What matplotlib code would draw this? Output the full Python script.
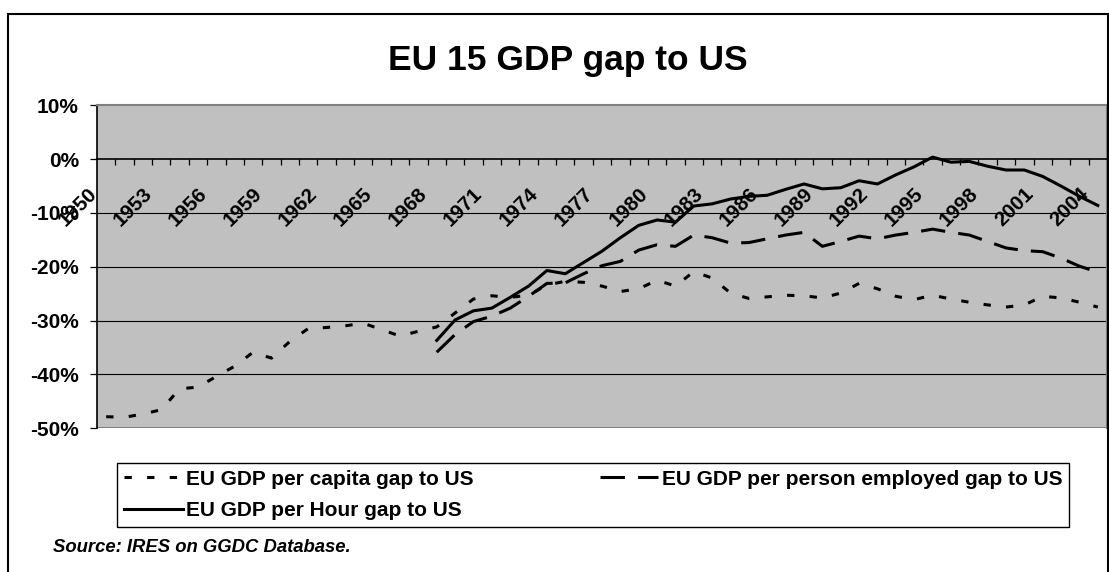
import numpy as np
import matplotlib.pyplot as plt
from matplotlib import transforms
from matplotlib.patches import Rectangle

plt.rcParams['font.family'] = 'Liberation Sans'
plt.rcParams['font.weight'] = 'bold'

# Gap to the US, in percent
years = np.arange(1950, 2005)
per_capita = [-47.9, -48.0, -47.4, -46.6, -42.7, -42.4, -40.4, -38.5, -35.9, -37.0,
              -33.9, -31.5, -31.3, -31.0, -30.5, -31.7, -32.9, -32.0, -31.2, -28.6,
              -26.0, -25.4, -25.7, -25.3, -23.4, -22.7, -22.9, -23.6, -24.6, -24.1,
              -22.5, -23.6, -20.9, -22.1, -24.9, -25.9, -25.6, -25.3, -25.4, -25.8,
              -24.9, -23.1, -24.1, -25.5, -26.1, -25.3, -26.0, -26.6, -27.1, -27.5,
              -27.1, -25.5, -25.8, -26.6, -27.5]

# employment and hours series start later
start_year = 1968
per_employed = [-35.9, -32.6,
                -30.2, -29.2, -27.7, -25.5, -23.1, -23.0, -21.3, -19.8, -19.0, -16.9,
                -15.9, -16.2, -14.1, -14.6, -15.6, -15.5, -14.8, -14.1, -13.6, -16.2,
                -15.3, -14.3, -14.8, -14.1, -13.6, -13.0, -13.6, -14.1, -15.3, -16.5,
                -17.0, -17.2, -18.4, -19.9, -21.0]
per_hour = [-33.7, -29.9,
            -28.2, -27.7, -25.7, -23.6, -20.7, -21.3, -19.2, -17.1, -14.6, -12.3,
            -11.3, -11.7, -8.7, -8.3, -7.4, -6.9, -6.7, -5.6, -4.6, -5.5,
            -5.3, -4.0, -4.6, -2.9, -1.4, 0.4, -0.55, -0.4, -1.3, -2.0,
            -2.0, -3.2, -5.0, -6.9, -8.6]

labels = ['EU GDP per capita gap to US',
          'EU GDP per person employed gap to US',
          'EU GDP per Hour gap to US']
y_ticks = [10, 0, -10, -20, -30, -40, -50]

W, H = 1109, 572
fig = plt.figure(figsize=(W / 100, H / 100), dpi=100)

# outer chart border
fig.add_artist(Rectangle((8 / W, -0.05), 1100 / W, 1 - 14 / H + 0.05,
                         transform=fig.transFigure, fill=False,
                         edgecolor='black', lw=1.5))

ax = fig.add_axes([97 / W, 1 - 428 / H, 1010 / W, (428 - 105.5) / H])
ax.set_facecolor('#C0C0C0')
ax.set_xlim(-0.5, len(years) - 0.5)
ax.set_ylim(-50, 10)

for v in y_ticks[2:-1]:
    ax.axhline(v, color='black', lw=0.8, zorder=1)
ax.axhline(-50, color='#808080', lw=1.5, zorder=1)

for side in ['top', 'right']:
    ax.spines[side].set_color('#808080')
    ax.spines[side].set_linewidth(1.5)
ax.spines['left'].set_color('black')
ax.spines['left'].set_linewidth(1.2)
ax.spines['bottom'].set_position(('data', 0))
ax.spines['bottom'].set_color('black')
ax.spines['bottom'].set_linewidth(1.2)

# category axis: ticks between categories, labels every third year
ax.set_xticks(np.arange(0.5, len(years) - 1, 1))
ax.tick_params(axis='x', direction='out', length=4.5, width=0.9, labelbottom=False)
ax.set_yticks(y_ticks)
ax.set_yticklabels([f'{v}%' for v in y_ticks])
ax.tick_params(axis='y', direction='out', length=5, width=0.9, pad=8, labelsize=15)

x = years - years[0]
lab_trans = transforms.offset_copy(ax.transData, fig=fig, x=-19, y=-25, units='dots')
for i in range(0, len(years), 3):
    ax.text(x[i], 0, str(years[i]), rotation=45, rotation_mode='anchor',
            ha='right', va='top', fontsize=14.8, transform=lab_trans, zorder=5)

x_late = np.arange(start_year, years[-1] + 1) - years[0]
l_cap, = ax.plot(x, per_capita, color='black', lw=2.2, ls=(0, (2.4, 5.0)), zorder=3)
l_emp, = ax.plot(x_late, per_employed, color='black', lw=2.2, ls=(0, (8, 4.3)), zorder=3)
l_hour, = ax.plot(x_late, per_hour, color='black', lw=2.2, zorder=3)

leg = fig.legend([l_cap, l_hour, l_emp], [labels[0], labels[2], labels[1]],
                 ncol=2, mode='expand', loc='upper left',
                 bbox_to_anchor=(117.3 / W, 1 - 527.3 / H, 951.7 / W, 64.6 / H),
                 prop={'size': 15, 'weight': 'bold'}, fancybox=False,
                 framealpha=1, edgecolor='black', borderpad=0.33, labelspacing=0.62,
                 handlelength=2.8, handletextpad=0.15, borderaxespad=0)
leg.get_frame().set_linewidth(1)

fig.text(568 / W, 1 - 70 / H, 'EU 15 GDP gap to US', ha='center', va='baseline',
         fontsize=25.5, weight='bold')
fig.text(53 / W, 1 - 548 / H, 'Source: IRES on GGDC Database.', ha='left', va='center',
         fontsize=13.3, style='italic', weight='bold')

fig.savefig('out.png', dpi=100)
